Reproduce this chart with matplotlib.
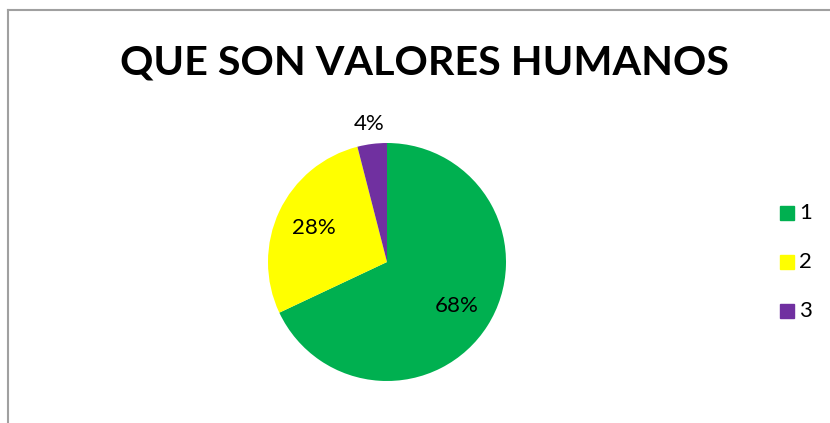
import numpy as np
import matplotlib.pyplot as plt

plt.rcParams['font.family'] = ['Lato', 'DejaVu Sans']

categorias = ["1", "2", "3"]
valores = [68, 28, 4]
colores = ["#00B050", "#FFFF00", "#7030A0"]
dist_etiqueta = [0.69, 0.68, 1.17]

fig = plt.figure(figsize=(8.3, 4.23), dpi=100)

# marco del grafico (cortado a la derecha y abajo)
fig.add_artist(plt.Line2D([8/830, 8/830], [0, 1 - 10.5/423], color="#A0A0A0", lw=1.5))
fig.add_artist(plt.Line2D([8/830, 1], [1 - 10.5/423, 1 - 10.5/423], color="#A0A0A0", lw=1.5))

fig.text(424/830, 1 - 63/423, "QUE SON VALORES HUMANOS", ha="center", va="center",
         fontsize=29.7, fontweight="bold")

ax = fig.add_axes([(387 - 119)/830, 1 - (262 + 119)/423, 238/830, 238/423])
wedges, _ = ax.pie(valores, colors=colores, startangle=90, counterclock=False,
                   wedgeprops=dict(linewidth=0))
ax.set_xlim(-1, 1)
ax.set_ylim(-1, 1)
ax.set_aspect("equal")

total = sum(valores)
for w, v, d in zip(wedges, valores, dist_etiqueta):
    ang = np.deg2rad((w.theta1 + w.theta2) / 2)
    ax.text(d*np.cos(ang), d*np.sin(ang), f"{round(100*v/total)}%", ha="center", va="center",
            fontsize=16, clip_on=False)

# leyenda
for i, (c, col) in enumerate(zip(categorias, colores)):
    y = 1 - (213 + 49*i)/423
    fig.patches.append(plt.Rectangle((780/830, y - 7/423), 14/830, 14/423, color=col,
                                     transform=fig.transFigure))
    fig.text(799/830, y, c, ha="left", va="center", fontsize=16)

fig.savefig("out.png", dpi=100)
